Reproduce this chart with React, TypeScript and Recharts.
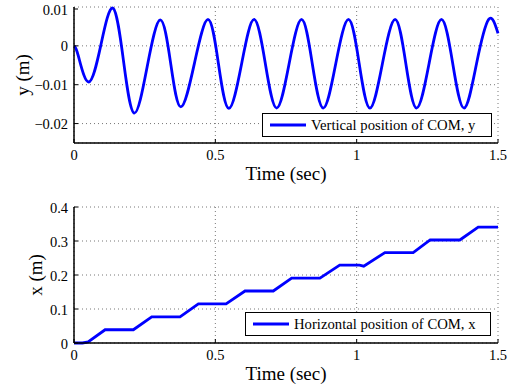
import { LineChart, Line, XAxis, YAxis, CartesianGrid, Legend } from "recharts";

const timeTicks = [0, 0.5, 1, 1.5];
const topYTicks = [-0.02, -0.01, 0, 0.01];
const bottomYTicks = [0, 0.1, 0.2, 0.3, 0.4];

// vertical COM position (at extrema and mid-swings)
const topTime = [
  0, 0.015, 0.052, 0.095, 0.138, 0.175, 0.213, 0.259, 0.305, 0.342, 0.378, 0.426, 0.474, 0.511, 0.548, 0.593,
  0.637, 0.677, 0.717, 0.761, 0.805, 0.843, 0.882, 0.926, 0.971, 1.009, 1.047, 1.091, 1.136, 1.174, 1.212,
  1.256, 1.3, 1.34, 1.38, 1.424, 1.467, 1.5,
];
const topY = [
  0, -0.0025, -0.0093, 0.0002, 0.0097, -0.0038, -0.0173, -0.0053, 0.0067, -0.0045, -0.0157, -0.0045, 0.0068,
  -0.0046, -0.0161, -0.0046, 0.0068, -0.0046, -0.016, -0.0046, 0.0068, -0.0046, -0.016, -0.0046, 0.0068,
  -0.0046, -0.016, -0.0046, 0.0068, -0.0046, -0.016, -0.0046, 0.0068, -0.0046, -0.016, -0.0046, 0.0068, 0.0032,
];

// horizontal COM position
const bottomTime = [
  0, 0.03, 0.05, 0.11, 0.21, 0.275, 0.375, 0.44, 0.538, 0.605, 0.705, 0.77, 0.87, 0.94, 1.01, 1.025, 1.1, 1.2,
  1.26, 1.365, 1.43, 1.5,
];
const bottomX = [
  0, 0, 0.003, 0.039, 0.039, 0.077, 0.077, 0.115, 0.115, 0.153, 0.153, 0.191, 0.191, 0.229, 0.229, 0.226, 0.266,
  0.266, 0.303, 0.303, 0.341, 0.341,
];

const topData = topTime.map((t, i) => ({ t, y: topY[i] }));
const bottomData = bottomTime.map((t, i) => ({ t, x: bottomX[i] }));

const FONT = '"Liberation Serif", "Times New Roman", serif';
const BLUE = "#0000ff";

const fmt = (v: number) => (v < 0 ? "\u2212" + String(Math.abs(v)) : String(v));

function BottomTick({ x, y, payload }: any) {
  return (
    <g>
      <line x1={x} y1={y} x2={x} y2={y - 4} stroke="#000" strokeWidth={1} />
      <text x={x} y={y + 17} textAnchor="middle" fontSize={14.5} fontFamily={FONT} fill="#000">
        {fmt(payload.value)}
      </text>
    </g>
  );
}

function LeftTick({ x, y, payload }: any) {
  return (
    <g>
      <line x1={x} y1={y} x2={x + 4} y2={y} stroke="#000" strokeWidth={1} />
      <text x={x - 6} y={y + 5.5} textAnchor="end" fontSize={14.5} fontFamily={FONT} fill="#000">
        {fmt(payload.value)}
      </text>
    </g>
  );
}

function TopTick({ x, y }: any) {
  return <line x1={x} y1={y} x2={x} y2={y + 4} stroke="#000" strokeWidth={1} />;
}

function RightTick({ x, y }: any) {
  return <line x1={x} y1={y} x2={x - 4} y2={y} stroke="#000" strokeWidth={1} />;
}

function xTitle(props: any) {
  const vb = props.viewBox;
  return (
    <text x={vb.x + vb.width / 2} y={vb.y + 37} textAnchor="middle" fontSize={19} fontFamily={FONT} fill="#000">
      Time (sec)
    </text>
  );
}

function yTitle(text: string, dx: number) {
  return (props: any) => {
    const vb = props.viewBox;
    const cx = vb.x + dx;
    const cy = vb.y + vb.height / 2;
    return (
      <text
        x={cx}
        y={cy}
        transform={`rotate(-90, ${cx}, ${cy})`}
        textAnchor="middle"
        dominantBaseline="central"
        fontSize={19}
        fontFamily={FONT}
        fill="#000"
      >
        {text}
      </text>
    );
  };
}

function legendBox(label: string, w: number) {
  return () => (
    <div
      style={{
        width: w,
        height: 24,
        boxSizing: "border-box",
        border: "1.3px solid #000",
        background: "#fff",
        display: "flex",
        alignItems: "center",
        fontFamily: FONT,
        fontSize: 14.7,
        color: "#000",
        whiteSpace: "nowrap",
      }}
    >
      <svg width={44} height={10} style={{ flex: "none" }}>
        <line x1={7} y1={5} x2={43} y2={5} stroke={BLUE} strokeWidth={2.8} />
      </svg>
      <span style={{ marginLeft: 4 }}>{label}</span>
    </div>
  );
}

const axisLine = { stroke: "#000", strokeWidth: 1.5 };

export default function App() {
  return (
    <div style={{ position: "absolute", left: 0, top: 0, width: 516, height: 390, background: "#fff" }}>
      <LineChart width={516} height={190} data={topData} margin={{ top: 7, right: 18, bottom: 7, left: 14 }}>
        <CartesianGrid stroke="#777" strokeDasharray="1 3" />
        <XAxis
          dataKey="t"
          type="number"
          domain={[0, 1.5]}
          ticks={timeTicks}
          height={40}
          tickSize={0}
          tickMargin={0}
          tick={<BottomTick />}
          axisLine={axisLine}
          label={{ content: xTitle }}
        />
        <XAxis
          xAxisId="top"
          orientation="top"
          type="number"
          domain={[0, 1.5]}
          ticks={timeTicks}
          height={0}
          tickSize={0}
          tickMargin={0}
          tick={<TopTick />}
          axisLine={axisLine}
        />
        <YAxis
          type="number"
          domain={[-0.025, 0.01]}
          ticks={topYTicks}
          width={60}
          tickSize={0}
          tickMargin={0}
          tick={<LeftTick />}
          axisLine={axisLine}
          label={{ content: yTitle("y (m)", 8) }}
        />
        <YAxis
          yAxisId="right"
          orientation="right"
          type="number"
          domain={[-0.025, 0.01]}
          ticks={topYTicks}
          width={0}
          tickSize={0}
          tickMargin={0}
          tick={<RightTick />}
          axisLine={axisLine}
        />
        <Legend
          layout="horizontal"
          verticalAlign="middle"
          align="center"
          content={legendBox("Vertical position of COM, y", 230)}
          wrapperStyle={{ left: 262, top: 113, width: 230, height: 24 }}
        />
        <Line
          dataKey="y"
          type="natural"
          stroke={BLUE}
          strokeWidth={2.8}
          dot={false}
          isAnimationActive={false}
        />
      </LineChart>
      <LineChart width={516} height={200} data={bottomData} margin={{ top: 17, right: 18, bottom: 7, left: 14 }}>
        <CartesianGrid stroke="#777" strokeDasharray="1 3" />
        <XAxis
          dataKey="t"
          type="number"
          domain={[0, 1.5]}
          ticks={timeTicks}
          height={40}
          tickSize={0}
          tickMargin={0}
          tick={<BottomTick />}
          axisLine={axisLine}
          label={{ content: xTitle }}
        />
        <XAxis
          xAxisId="top"
          orientation="top"
          type="number"
          domain={[0, 1.5]}
          ticks={timeTicks}
          height={0}
          tickSize={0}
          tickMargin={0}
          tick={<TopTick />}
          axisLine={axisLine}
        />
        <YAxis
          type="number"
          domain={[0, 0.4]}
          ticks={bottomYTicks}
          width={60}
          tickSize={0}
          tickMargin={0}
          tick={<LeftTick />}
          axisLine={axisLine}
          label={{ content: yTitle("x (m)", 21) }}
        />
        <YAxis
          yAxisId="right"
          orientation="right"
          type="number"
          domain={[0, 0.4]}
          ticks={bottomYTicks}
          width={0}
          tickSize={0}
          tickMargin={0}
          tick={<RightTick />}
          axisLine={axisLine}
        />
        <Legend
          layout="horizontal"
          verticalAlign="middle"
          align="center"
          content={legendBox("Horizontal position of COM, x", 246)}
          wrapperStyle={{ left: 245, top: 122, width: 246, height: 24 }}
        />
        <Line
          dataKey="x"
          type="linear"
          stroke={BLUE}
          strokeWidth={2.8}
          dot={false}
          isAnimationActive={false}
        />
      </LineChart>
    </div>
  );
}
